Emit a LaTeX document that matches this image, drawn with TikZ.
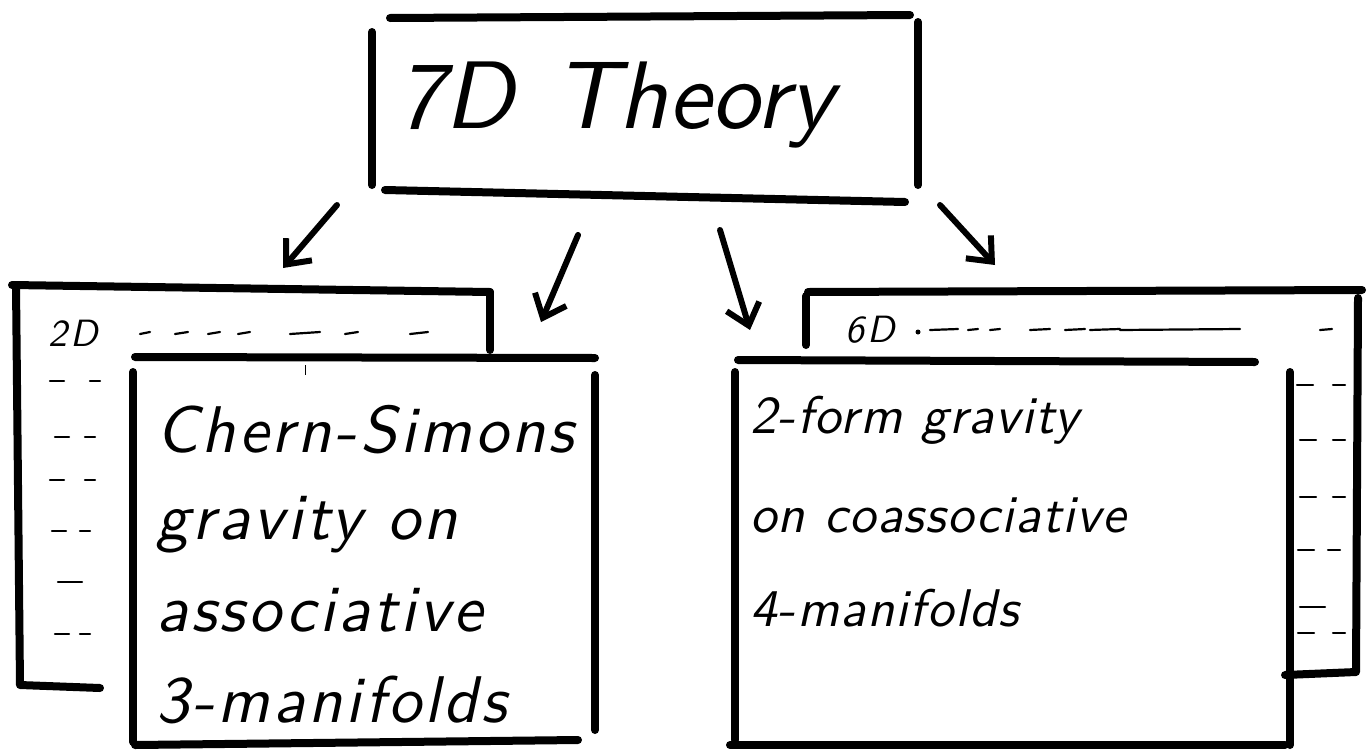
\documentclass[tikz,border=0pt]{standalone}
\usepackage{fontspec}
\newfontfamily\handL[LetterSpace=5]{lmsans10-oblique.otf}
\newfontfamily\handR[LetterSpace=2.5]{lmsans10-oblique.otf}
\newfontfamily\handS[LetterSpace=10]{lmsans10-oblique.otf}
\newfontfamily\handT{lmsans10-oblique.otf}
\usetikzlibrary{arrows.meta}
\begin{document}
\begin{tikzpicture}[x=1pt,y=-1pt,
  heavy/.style={line width=8pt,line cap=round,line join=round},
  arr/.style={line width=6pt,line cap=round,-{Straight Barb[length=20pt,width=34pt,line width=6pt]}},
  dsh/.style={line width=2.2pt,line cap=round},
  leftText/.style={inner sep=0pt,anchor=west,font=\handL\fontsize{66}{78}\selectfont},
  rightText/.style={inner sep=0pt,anchor=west,font=\handR\fontsize{53}{64}\selectfont},
  small/.style={inner sep=0pt,anchor=west,font=\handS\fontsize{38}{42}\selectfont}]
\useasboundingbox (0,0) rectangle (1370,750);
% top box
\draw[heavy] (390,18) -- (910,15);
\draw[heavy] (372,32) -- (372,185);
\draw[heavy] (918,22) -- (918,185);
\draw[heavy] (385,190) -- (905,202);
\node[inner sep=0pt,font=\handT\fontsize{96}{106}\selectfont] (top) at (615,105) {7D\hspace{40pt}Theory};
% arrows
\coordinate (a1s) at (337,205); \coordinate (a1e) at (283,268);
\coordinate (a2s) at (578,235); \coordinate (a2e) at (541,322);
\coordinate (a3s) at (720,230); \coordinate (a3e) at (750,330);
\coordinate (a4s) at (940,205); \coordinate (a4e) at (995,265);
\draw[arr] (a1s) -- (a1e);
\draw[arr] (a2s) -- (a2e);
\draw[arr] (a3s) -- (a3e);
\draw[arr] (a4s) -- (a4e);
% left back box
\draw[heavy] (12,285) -- (490,292);
\draw[heavy] (490,292) -- (490,350);
\draw[heavy] (16,285) -- (20,685) -- (100,688);
\node[small] (l2d) at (48,333) {2D};
\foreach \a/\b in {140/150,175/188,208/220,238/250,290/320,345/358,410/428}
  \draw[dsh] (\a,334) -- (\b,332);
\foreach \y/\l/\r in {381/50/100,437/55/95,480/50/95,531/52/90,582/58/82,634/55/90}{
  \draw[dsh] (\l,\y) -- (\l+14,\y);
  \draw[dsh] (\r-10,\y) -- (\r,\y);}
% left front box
\draw[heavy] (135,357) -- (595,358);
\draw[heavy] (133,372) -- (133,742);
\draw[heavy] (595,375) -- (595,730);
\draw[heavy] (135,745) -- (578,740);
\draw[line width=1pt] (305,365) -- (305,375);
\node[leftText] (cs1) at (156,430) {Chern-Simons};
\node[leftText] (cs2) at (156,525) {gravity on};
\node[leftText] (cs3) at (156,610) {associative};
\node[leftText] (cs4) at (156,700) {3-manifolds};
% right back box
\draw[heavy] (808,292) -- (1362,290);
\draw[heavy] (806,296) -- (806,345);
\draw[heavy] (1358,298) -- (1356,672) -- (1285,675);
\node[small] (r6d) at (845,330) {6D};
\fill (918,332) circle (2.5pt);
\foreach \a/\b in {930/958,968/978,990/1000,1030/1050,1065/1085,1090/1120,1120/1240,1320/1332}
  \draw[dsh] (\a,330) -- (\b,329);
\foreach \y/\l/\r in {385/1297/1345,440/1300/1345,497/1300/1345,550/1298/1340,607/1300/1325,633/1298/1345}{
  \draw[dsh] (\l,\y) -- (\l+16,\y);
  \draw[dsh] (\r-12,\y) -- (\r,\y);}
% right front box
\draw[heavy] (738,360) -- (1255,362);
\draw[heavy] (735,372) -- (735,740);
\draw[heavy] (1290,372) -- (1290,745);
\draw[heavy] (730,745) -- (1285,745);
\node[rightText] (tf1) at (750,420) {2-form gravity};
\node[rightText] (tf2) at (750,515) {on coassociative};
\node[rightText] (tf3) at (750,608) {4-manifolds};
\end{tikzpicture}
\end{document}
